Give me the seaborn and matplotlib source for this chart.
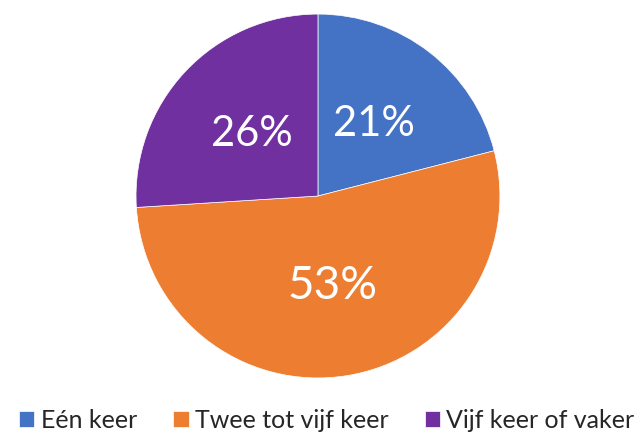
import matplotlib
matplotlib.use("Agg")
import matplotlib.pyplot as plt
import seaborn as sns

categorieen = ["Eén keer", "Twee tot vijf keer", "Vijf keer of vaker"]
percentages = [21, 53, 26]
kleuren = ["#4472C4", "#ED7D31", "#7030A0"]

sns.set_theme(style="white")
plt.rcParams["font.family"] = ["Lato", "DejaVu Sans"]

fig = plt.figure(figsize=(6.43, 4.4), dpi=100)
ax = fig.add_axes([0.2115, 0.141, 0.566, 0.827])

wedges, _, autotexts = ax.pie(
    percentages,
    colors=kleuren,
    startangle=90,
    counterclock=False,
    autopct="%1.0f%%",
    pctdistance=0.5,
    wedgeprops={"edgecolor": "white", "linewidth": 0.5},
    textprops={"color": "white", "fontsize": 30},
)
# grootste segment iets grotere tekst
autotexts[1].set_fontsize(33)
ax.set_xlim(-1, 1)
ax.set_ylim(-1, 1)
ax.set_aspect("equal")

fig.legend(wedges, categorieen, loc="center", bbox_to_anchor=(0.508, 0.044),
           ncol=3, frameon=False, fontsize=18, handlelength=0.62,
           handleheight=0.62, handletextpad=0.25, columnspacing=1.45)

fig.savefig("out.png", dpi=100)
